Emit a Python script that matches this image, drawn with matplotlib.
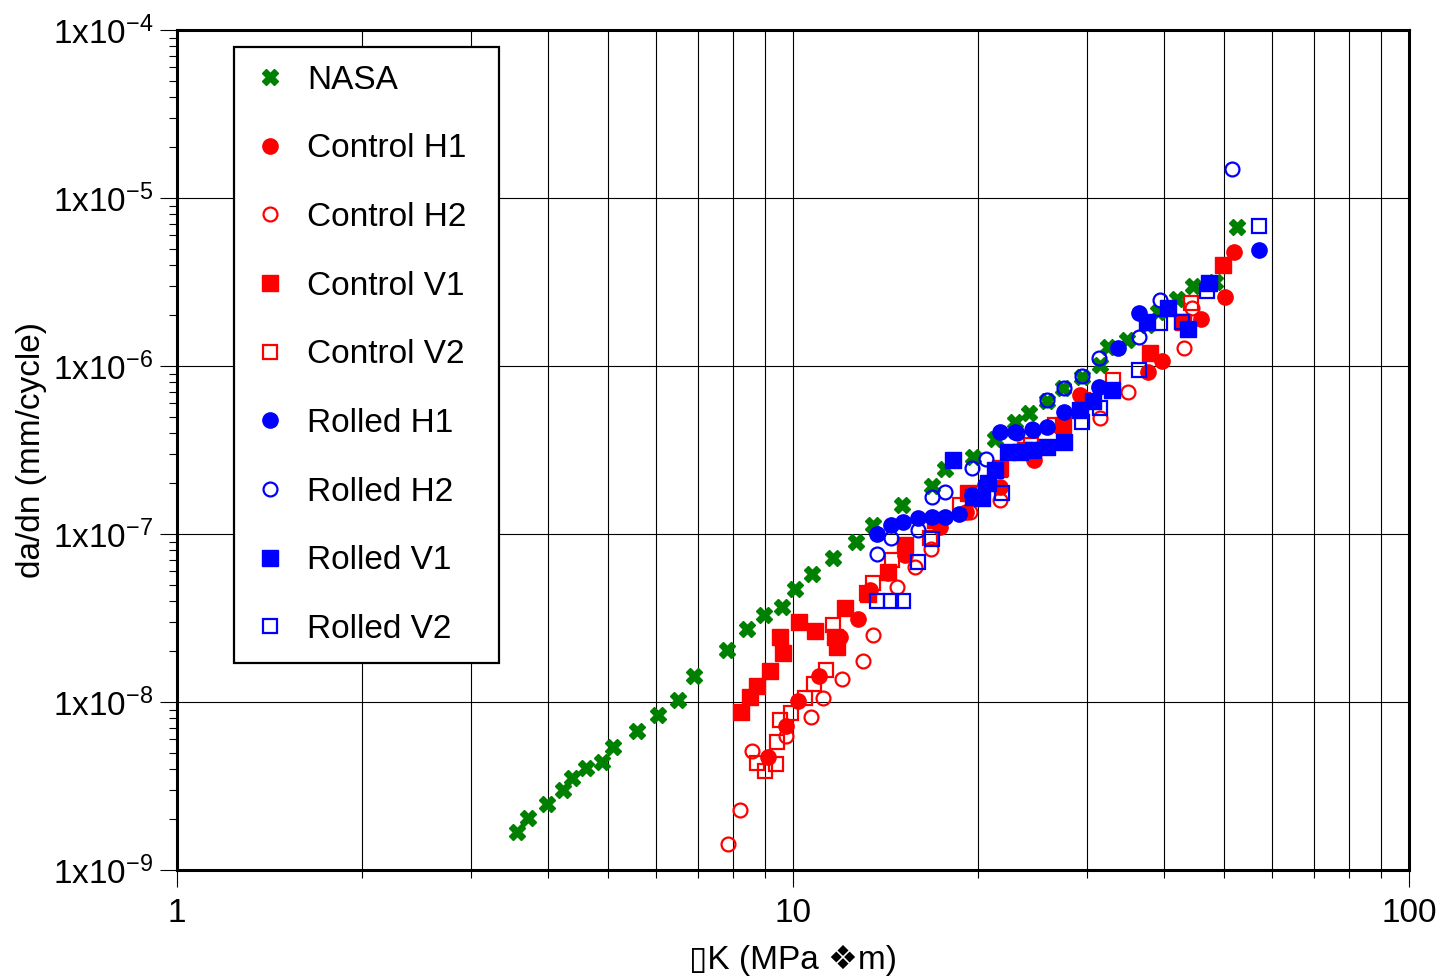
import matplotlib
matplotlib.use('Agg')
import math
import matplotlib.pyplot as plt
from matplotlib.ticker import FixedLocator, FuncFormatter, LogLocator, NullFormatter

plt.rcParams['font.family'] = ['Liberation Sans', 'DejaVu Sans']
plt.rcParams['mathtext.default'] = 'regular'

# --- data (dK in MPa*sqrt(m), da/dn in mm/cycle) ---
nasa_k = [3.56, 3.71, 3.99, 4.23, 4.38, 4.61, 4.90, 5.10, 5.58, 6.04, 6.51, 6.91, 7.81, 8.42,
          8.97, 9.60, 10.08, 10.74, 11.61, 12.66, 13.49, 15.03, 16.81, 17.65, 19.60, 21.28,
          22.93, 24.16, 25.84, 27.43, 29.45, 31.5, 32.4, 34.8, 37.6, 39.1, 42.0, 44.6, 48.4, 52.6]
nasa_r = [1.68e-9, 2.04e-9, 2.47e-9, 2.99e-9, 3.53e-9, 4.05e-9, 4.40e-9, 5.40e-9, 6.72e-9,
          8.37e-9, 1.03e-8, 1.43e-8, 2.04e-8, 2.72e-8, 3.30e-8, 3.68e-8, 4.71e-8, 5.78e-8,
          7.20e-8, 8.96e-8, 1.13e-7, 1.49e-7, 1.93e-7, 2.44e-7, 2.87e-7, 3.67e-7, 4.64e-7,
          5.25e-7, 6.19e-7, 7.40e-7, 8.61e-7, 1.01e-6, 1.30e-6, 1.43e-6, 1.75e-6, 2.10e-6,
          2.51e-6, 2.99e-6, 3.16e-6, 6.72e-6]

ch1_k = [9.11, 9.75, 10.19, 11.02, 11.92, 12.75, 13.34, 14.26, 15.2, 17.3, 19.1, 21.7, 24.6,
         29.2, 37.7, 39.7, 45.9, 50.3, 52.0]
ch1_r = [4.71e-9, 7.20e-9, 1.01e-8, 1.43e-8, 2.44e-8, 3.12e-8, 4.64e-8, 5.86e-8, 7.5e-8,
         1.10e-7, 1.35e-7, 1.90e-7, 2.76e-7, 6.72e-7, 9.2e-7, 1.07e-6, 1.90e-6, 2.57e-6, 4.77e-6]

ch2_k = [7.84, 8.20, 8.58, 9.75, 10.7, 11.18, 12.01, 12.99, 13.49, 14.75, 15.8, 16.75, 19.4,
         21.7, 25.2, 31.5, 35.0, 43.1, 44.4]
ch2_r = [1.43e-9, 2.28e-9, 5.11e-9, 6.28e-9, 8.14e-9, 1.06e-8, 1.37e-8, 1.75e-8, 2.51e-8,
         4.84e-8, 6.37e-8, 8.14e-8, 1.35e-7, 1.59e-7, 3.25e-7, 4.90e-7, 7.0e-7, 1.28e-6, 2.21e-6]

cv1_k = [8.24, 8.51, 8.74, 9.18, 9.53, 9.63, 10.23, 10.86, 11.70, 11.79, 12.14, 13.24, 14.26,
         15.2, 17.0, 19.2, 21.7, 23.8, 27.4, 38.0, 43.0, 49.9]
cv1_r = [8.71e-9, 1.07e-8, 1.25e-8, 1.53e-8, 2.44e-8, 1.96e-8, 2.99e-8, 2.65e-8, 2.44e-8,
         2.12e-8, 3.63e-8, 4.40e-8, 5.94e-8, 8.6e-8, 1.21e-7, 1.75e-7, 2.47e-7, 3.16e-7,
         4.45e-7, 1.19e-6, 1.83e-6, 3.99e-6]

cv2_k = [9.01, 8.74, 9.38, 9.42, 9.53, 9.93, 10.46, 10.82, 11.31, 11.61, 13.19, 13.49, 14.48,
         16.7, 18.7, 21.7, 24.3, 26.6, 29.6, 33.1, 42.8, 44.3]
cv2_r = [3.88e-9, 4.34e-9, 4.27e-9, 5.78e-9, 7.81e-9, 8.60e-9, 1.06e-8, 1.28e-8, 1.55e-8,
         2.87e-8, 4.46e-8, 5.11e-8, 7.0e-8, 9.47e-8, 1.49e-7, 2.41e-7, 3.39e-7, 4.45e-7,
         6.28e-7, 8.25e-7, 1.83e-6, 2.37e-6]

rh1_k = [13.7, 14.4, 15.1, 15.96, 16.8, 17.65, 18.6, 19.5, 20.5, 21.7, 22.9, 24.5, 25.8, 27.5,
         31.4, 33.7, 36.5, 57.1]
rh1_r = [1.0e-7, 1.13e-7, 1.18e-7, 1.25e-7, 1.27e-7, 1.27e-7, 1.32e-7, 1.71e-7, 1.96e-7,
         4.05e-7, 4.05e-7, 4.16e-7, 4.34e-7, 5.32e-7, 7.50e-7, 1.28e-6, 2.07e-6, 4.90e-6]

rh2_k = [13.7, 14.4, 15.96, 16.8, 17.65, 19.5, 20.6, 23.1, 24.4, 25.8, 27.5, 29.4, 31.4, 36.5,
         39.4, 51.6]
rh2_r = [7.6e-8, 9.47e-8, 1.06e-7, 1.66e-7, 1.78e-7, 2.47e-7, 2.79e-7, 3.99e-7, 4.22e-7,
         6.28e-7, 7.40e-7, 8.7e-7, 1.12e-6, 1.49e-6, 2.47e-6, 1.49e-5]

rv1_k = [18.2, 19.6, 20.3, 20.7, 21.3, 22.3, 23.4, 24.5, 25.8, 27.5, 29.2, 30.7, 33.0, 37.6,
         40.6, 43.8, 47.4]
rv1_r = [2.76e-7, 1.66e-7, 1.63e-7, 2.01e-7, 2.41e-7, 3.08e-7, 3.08e-7, 3.16e-7, 3.30e-7,
         3.53e-7, 5.47e-7, 6.19e-7, 7.20e-7, 1.83e-6, 2.21e-6, 1.66e-6, 3.12e-6]

rv2_k = [13.7, 14.4, 15.1, 15.96, 16.8, 21.8, 29.4, 31.5, 36.5, 39.4, 42.8, 47.0, 57.1]
rv2_r = [3.99e-8, 3.99e-8, 3.99e-8, 6.81e-8, 9.34e-8, 1.75e-7, 4.64e-7, 5.62e-7, 9.47e-7,
         1.80e-6, 1.83e-6, 2.79e-6, 6.81e-6]

green = '#008000'
red = '#ff0000'
blue = '#0000ff'
ms = 11
fs = 24

fig = plt.figure(figsize=(14.4, 9.76), dpi=100)
ax = fig.add_axes([0.1229, 0.1086, 0.8556, 0.8607])

ax.plot(nasa_k, nasa_r, 'X', color=green, ms=ms, mec=green, label='NASA')
ax.plot(ch1_k, ch1_r, 'o', color=red, ms=ms, label='Control H1')
ax.plot(ch2_k, ch2_r, 'o', mfc='none', mec=red, mew=1.6, ms=ms - 1, label='Control H2')
ax.plot(cv1_k, cv1_r, 's', color=red, ms=ms, label='Control V1')
ax.plot(cv2_k, cv2_r, 's', mfc='none', mec=red, mew=1.6, ms=ms - 1, label='Control V2')
ax.plot(rh1_k, rh1_r, 'o', color=blue, ms=ms, label='Rolled H1')
ax.plot(rh2_k, rh2_r, 'o', mfc='none', mec=blue, mew=1.6, ms=ms - 1, label='Rolled H2')
ax.plot(rv1_k, rv1_r, 's', color=blue, ms=ms, label='Rolled V1')
ax.plot(rv2_k, rv2_r, 's', mfc='none', mec=blue, mew=1.6, ms=ms - 1, label='Rolled V2')

ax.set_xscale('log')
ax.set_yscale('log')
ax.set_xlim(1, 100)
ax.set_ylim(1e-9, 1e-4)

ax.xaxis.set_major_locator(FixedLocator([1, 10, 100]))
ax.xaxis.set_major_formatter(FuncFormatter(lambda v, p: '%g' % v))
ax.xaxis.set_minor_locator(LogLocator(base=10, subs=range(2, 10)))
ax.xaxis.set_minor_formatter(NullFormatter())
ax.yaxis.set_major_locator(FixedLocator([1e-9, 1e-8, 1e-7, 1e-6, 1e-5, 1e-4]))
ax.yaxis.set_major_formatter(FuncFormatter(lambda v, p: r'1x10$^{%d}$' % round(math.log10(v))))
ax.yaxis.set_minor_locator(LogLocator(base=10, subs=range(2, 10)))
ax.yaxis.set_minor_formatter(NullFormatter())

ax.grid(which='major', color='black', lw=0.8)
ax.xaxis.grid(which='minor', color='black', lw=0.8)
ax.set_axisbelow(True)

ax.tick_params(which='major', direction='out', length=12, width=0.8, labelsize=fs, pad=5)
ax.tick_params(axis='x', which='major', pad=8)
ax.tick_params(which='minor', direction='out', length=6, width=0.8)
for s in ax.spines.values():
    s.set_linewidth(2.2)

ax.set_xlabel('\u25AFK (MPa \u2756m)', fontsize=fs, labelpad=12)
ax.set_ylabel('da/dn (mm/cycle)', fontsize=fs, labelpad=4)

leg = ax.legend(loc='upper left', bbox_to_anchor=(0.0463, 0.018, 0.2151, 0.962),
                mode='expand', borderaxespad=0, fontsize=fs, borderpad=0.54,
                handlelength=1.08, handletextpad=0.57, labelspacing=1.13,
                fancybox=False, framealpha=1, edgecolor='black')
leg.get_frame().set_linewidth(1.6)

plt.savefig('out.png', dpi=100)
